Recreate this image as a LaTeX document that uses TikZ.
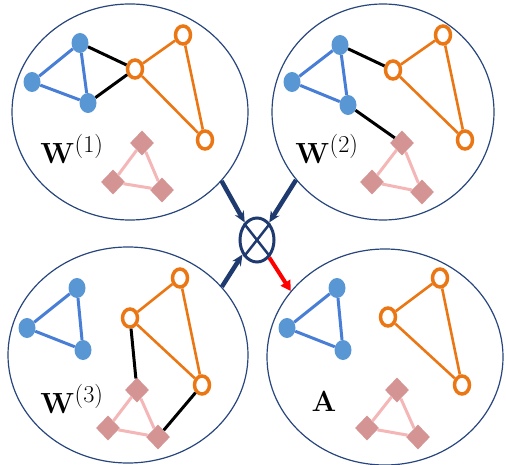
\documentclass[tikz,border=0pt]{standalone}
\usepackage{tikz}
\usetikzlibrary{shapes.geometric, arrows.meta}

\definecolor{bubbleblue}{RGB}{40,70,125}
\definecolor{arrownavy}{RGB}{31,58,110}
\definecolor{nodeblue}{RGB}{88,150,212}
\definecolor{edgeblue}{RGB}{72,126,214}
\definecolor{nodeorange}{RGB}{235,118,20}
\definecolor{nodepink}{RGB}{212,148,148}
\definecolor{edgepink}{RGB}{244,182,182}

\begin{document}
\begin{tikzpicture}[
  x=1pt, y=-1pt,
  bubble/.style={ellipse, draw=bubbleblue, line width=1.2pt, minimum height=216pt},
  bnode/.style={ellipse, fill=nodeblue, minimum width=17pt, minimum height=20pt, inner sep=0pt},
  onode/.style={ellipse, draw=nodeorange, line width=3.5pt, fill=white, minimum width=15pt, minimum height=18pt, inner sep=0pt},
  pnode/.style={diamond, fill=nodepink, minimum width=24pt, minimum height=25pt, inner sep=0pt},
  blink/.style={draw=edgeblue, line width=3pt},
  olink/.style={draw=nodeorange, line width=2.6pt},
  plink/.style={draw=edgepink, line width=3pt},
  xlink/.style={draw=black, line width=3pt},
  lab/.style={font=\Huge, scale=1.17, transform shape},
  prod/.style={ellipse, draw=arrownavy, line width=3pt, minimum width=34pt, minimum height=44pt, inner sep=0pt},
  feed/.style={-{Stealth[length=11pt,width=10pt]}, draw=arrownavy, line width=4.5pt},
  resultarrow/.style={-{Triangle[length=10pt,width=11pt]}, draw=red, line width=4pt}
]
\useasboundingbox (0,0) rectangle (506,465);

\node[bubble, minimum width=236pt] (w1) at (130,112) {};
\node[bubble, minimum width=222pt] (w2) at (383,112) {};
\node[bubble, minimum width=240pt] (w3) at (128,355) {};
\node[bubble, minimum width=236pt] (w4) at (385,357) {};

\node[prod] (ot) at (257,240) {};
\draw[arrownavy, line width=2.5pt] (ot.north west) -- (ot.south east);
\draw[arrownavy, line width=2.5pt] (ot.north east) -- (ot.south west);

\node[bnode] (b11) at (80,43) {};
\node[bnode] (b12) at (32,82) {};
\node[bnode] (b13) at (88,103) {};
\node[onode] (o11) at (135,69) {};
\node[onode] (o12) at (183,35) {};
\node[onode] (o13) at (205,140) {};
\node[pnode] (p11) at (142,143) {};
\node[pnode] (p12) at (113,182) {};
\node[pnode] (p13) at (162,190) {};
\node[lab] (l1) at (72,149) {$\mathbf{W}^{(1)}$};

\node[bnode] (b21) at (340,45) {};
\node[bnode] (b22) at (292,82) {};
\node[bnode] (b23) at (348,105) {};
\node[onode] (o21) at (393,70) {};
\node[onode] (o22) at (443,35) {};
\node[onode] (o23) at (465,140) {};
\node[pnode] (p21) at (402,143) {};
\node[pnode] (p22) at (372,182) {};
\node[pnode] (p23) at (422,192) {};
\node[lab] (l2) at (327,149) {$\mathbf{W}^{(2)}$};

\node[bnode] (b31) at (77,288) {};
\node[bnode] (b32) at (27,328) {};
\node[bnode] (b33) at (83,350) {};
\node[onode] (o31) at (130,318) {};
\node[onode] (o32) at (180,278) {};
\node[onode] (o33) at (202,385) {};
\node[pnode] (p31) at (137,390) {};
\node[pnode] (p32) at (108,428) {};
\node[pnode] (p33) at (158,437) {};
\node[lab] (l3) at (72,399) {$\mathbf{W}^{(3)}$};

\node[bnode] (b41) at (337,288) {};
\node[bnode] (b42) at (287,328) {};
\node[bnode] (b43) at (343,350) {};
\node[onode] (o41) at (388,317) {};
\node[onode] (o42) at (440,278) {};
\node[onode] (o43) at (462,385) {};
\node[pnode] (p41) at (397,390) {};
\node[pnode] (p42) at (367,428) {};
\node[pnode] (p43) at (418,437) {};
\node[lab] (l4) at (324,402) {$\mathbf{A}$};

\draw[blink] (b11) -- (b12) -- (b13) -- (b11);
\draw[olink] (o11) -- (o12) -- (o13) -- (o11);
\draw[plink] (p11) -- (p12) -- (p13) -- (p11);
\draw[xlink] (b11) -- (o11);
\draw[xlink] (b13) -- (o11);

\draw[blink] (b21) -- (b22) -- (b23) -- (b21);
\draw[olink] (o21) -- (o22) -- (o23) -- (o21);
\draw[plink] (p21) -- (p22) -- (p23) -- (p21);
\draw[xlink] (b21) -- (o21);
\draw[xlink] (b23) -- (p21);

\draw[blink] (b31) -- (b32) -- (b33) -- (b31);
\draw[olink] (o31) -- (o32) -- (o33) -- (o31);
\draw[plink] (p31) -- (p32) -- (p33) -- (p31);
\draw[xlink] (o31) -- (p31);
\draw[xlink] (o33) -- (p33);

\draw[blink] (b41) -- (b42) -- (b43) -- (b41);
\draw[olink] (o41) -- (o42) -- (o43) -- (o41);
\draw[plink] (p41) -- (p42) -- (p43) -- (p41);

\draw[feed] (w1.-37) -- (ot.125);
\draw[feed] (w2.218) -- (ot.55);
\draw[feed] (w3.36) -- (ot.225);
\draw[resultarrow] (ot.-55) -- (w4.145);

\end{tikzpicture}
\end{document}
